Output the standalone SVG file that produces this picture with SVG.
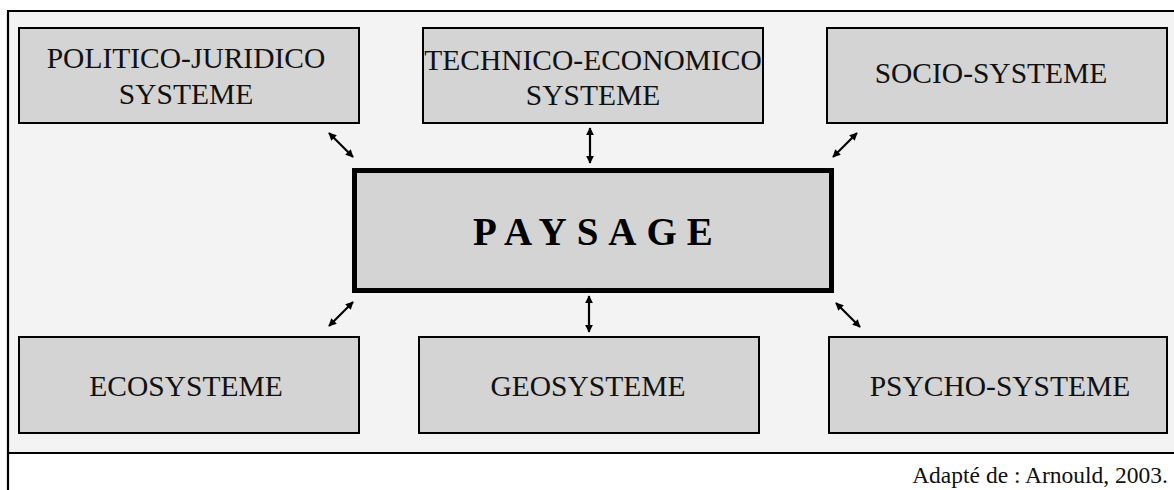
<svg xmlns="http://www.w3.org/2000/svg" width="1174" height="490" viewBox="0 0 1174 490">
<style>
.bg{fill:#ffffff}
.panel{fill:#f3f3f3}
.frame{stroke:#000;stroke-width:2.2;fill:none}
.box{fill:#d4d4d4;stroke:#000;stroke-width:2}
.core{fill:#d4d4d4;stroke:#000;stroke-width:5}
.lbl{font-family:"Liberation Serif","Times New Roman",serif;font-size:29.5px;fill:#111;text-anchor:middle}
.title{font-family:"Liberation Serif","Times New Roman",serif;font-size:39px;font-weight:bold;fill:#000;letter-spacing:10px}
.cap{font-family:"Liberation Serif","Times New Roman",serif;font-size:23.5px;fill:#111;text-anchor:end}
.arr{stroke:#000;stroke-width:2.2;fill:none;marker-start:url(#ah);marker-end:url(#ah)}
</style>
<defs>
<marker id="ah" viewBox="0 0 10 10" refX="9" refY="5" markerWidth="3.6" markerHeight="3.6" orient="auto-start-reverse" markerUnits="strokeWidth">
<path d="M0,0 L10,5 L0,10 z" fill="#000"/>
</marker>
</defs>
<rect class="bg" x="0" y="0" width="1174" height="490"/>
<rect class="panel" x="8" y="11" width="1166" height="442"/>
<g id="frame">
<line class="frame" x1="8" y1="11" x2="1174" y2="11"/>
<line class="frame" x1="8" y1="10" x2="8" y2="490"/>
<line class="frame" x1="8" y1="453" x2="1174" y2="453"/>
</g>
<g id="connectors">
<line class="arr" x1="329" y1="133" x2="353" y2="157"/>
<line class="arr" x1="590" y1="128" x2="590" y2="163"/>
<line class="arr" x1="857" y1="133" x2="833" y2="157"/>
<line class="arr" x1="353" y1="302" x2="329" y2="326"/>
<line class="arr" x1="589" y1="296" x2="589" y2="332"/>
<line class="arr" x1="836" y1="303" x2="860" y2="327"/>
</g>
<g id="politico">
<rect class="box" x="19" y="28" width="340" height="95"/>
<text class="lbl" x="186" y="68">POLITICO-JURIDICO</text>
<text class="lbl" x="186" y="104">SYSTEME</text>
</g>
<g id="technico">
<rect class="box" x="423" y="28" width="340" height="95"/>
<text class="lbl" x="593" y="70">TECHNICO-ECONOMICO</text>
<text class="lbl" x="593" y="105">SYSTEME</text>
</g>
<g id="socio">
<rect class="box" x="827" y="28" width="340" height="95"/>
<text class="lbl" x="991" y="83">SOCIO-SYSTEME</text>
</g>
<g id="paysage">
<rect class="core" x="354.5" y="170.5" width="477" height="120"/>
<text class="title" x="473" y="245">PAYSAGE</text>
</g>
<g id="ecosysteme">
<rect class="box" x="19" y="337" width="340" height="96"/>
<text class="lbl" x="186" y="396">ECOSYSTEME</text>
</g>
<g id="geosysteme">
<rect class="box" x="419" y="337" width="340" height="96"/>
<text class="lbl" x="588" y="396">GEOSYSTEME</text>
</g>
<g id="psycho">
<rect class="box" x="829" y="337" width="338" height="96"/>
<text class="lbl" x="1000" y="396">PSYCHO-SYSTEME</text>
</g>
<g id="caption">
<text class="cap" x="1168" y="483">Adapté de : Arnould, 2003.</text>
</g>
</svg>
